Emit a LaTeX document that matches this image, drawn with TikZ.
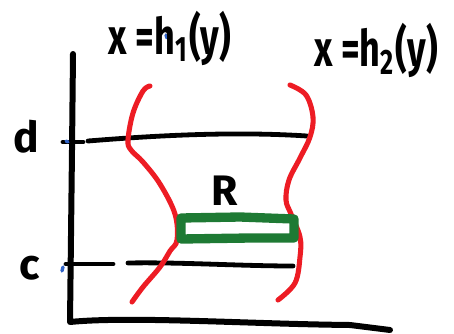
\documentclass[tikz,border=0pt]{standalone}
\usepackage{fontspec}
\setmainfont{Fira Sans}
\definecolor{penred}{RGB}{237,28,36}
\definecolor{pengreen}{RGB}{30,122,52}
\definecolor{penblue}{RGB}{50,100,200}
\begin{document}
\begin{tikzpicture}[x=0.75pt,y=0.75pt,yscale=-1,xscale=1,
  axisline/.style={line width=4.5pt,line cap=round,line join=round},
  levelline/.style={line width=3.6pt,line cap=round},
  redcurve/.style={penred,line width=3.8pt,line cap=round},
  greenbox/.style={pengreen,line width=7pt,line join=round},
  bluedot/.style={penblue,line width=2.5pt,line cap=round},
  handtext/.style={inner sep=0.75pt,font=\bfseries}]
\useasboundingbox (0,0) rectangle (454,333);

%Shape: Axes
\draw [axisline] (73,54) -- (72,150) -- (70,322) .. controls (130,316) and (250,324) .. (350,325) -- (390,330) ;
%Shape: Level line d
\draw [levelline] (63,142) -- (83,142) ;
\draw [levelline] (88,141) .. controls (150,136) and (230,131) .. (307,136) ;
%Shape: Level line c
\draw [levelline] (66,264) -- (113,264) ;
\draw [levelline] (128,263) .. controls (180,262) and (240,266) .. (293,266) ;
%Shape: Left boundary
\draw [redcurve] plot [smooth,tension=0.6] coordinates {(150,86) (143,91) (133,113) (128,140) (131,150) (143,162) (160,184) (175,214) (177,240) (170,251) (160,267) (143,287) (132,302)} ;
%Shape: Right boundary
\draw [redcurve] plot [smooth,tension=0.6] coordinates {(290,85) (306,95) (313,117) (310,137) (300,158) (289,180) (286,200) (291,214) (300,237) (300,257) (295,283) (278,300)} ;
%Shape: Strip
\draw [greenbox] (181,218) -- (240,217) -- (294,219) -- (294,238) -- (250,238) -- (181,239) -- cycle ;
%Shape: Pen dots
\draw [bluedot] (66,141) -- (68,142) ;
\draw [bluedot] (63,267) -- (62,271) ;
\draw [bluedot] (166,35) -- (167,38) ;

% Text Node
\draw (170,38) node (lblhone) [handtext] {\fontsize{27}{27}\selectfont\scalebox{1}[1.4]{x =h\textsubscript{1}\kern1pt(y)}};
% Text Node
\draw (376,50) node (lblhtwo) [handtext] {\fontsize{27}{27}\selectfont\scalebox{1}[1.4]{x =h\textsubscript{2}\kern1pt(y)}};
% Text Node
\draw (26,137) node (lbld) [handtext] {\fontsize{32}{32}\selectfont d};
% Text Node
\draw (30,268) node (lblc) [handtext] {\fontsize{32}{32}\selectfont c};
% Text Node
\draw (225,191) node (lblr) [handtext] {\fontsize{32}{32}\selectfont R};

\end{tikzpicture}
\end{document}
